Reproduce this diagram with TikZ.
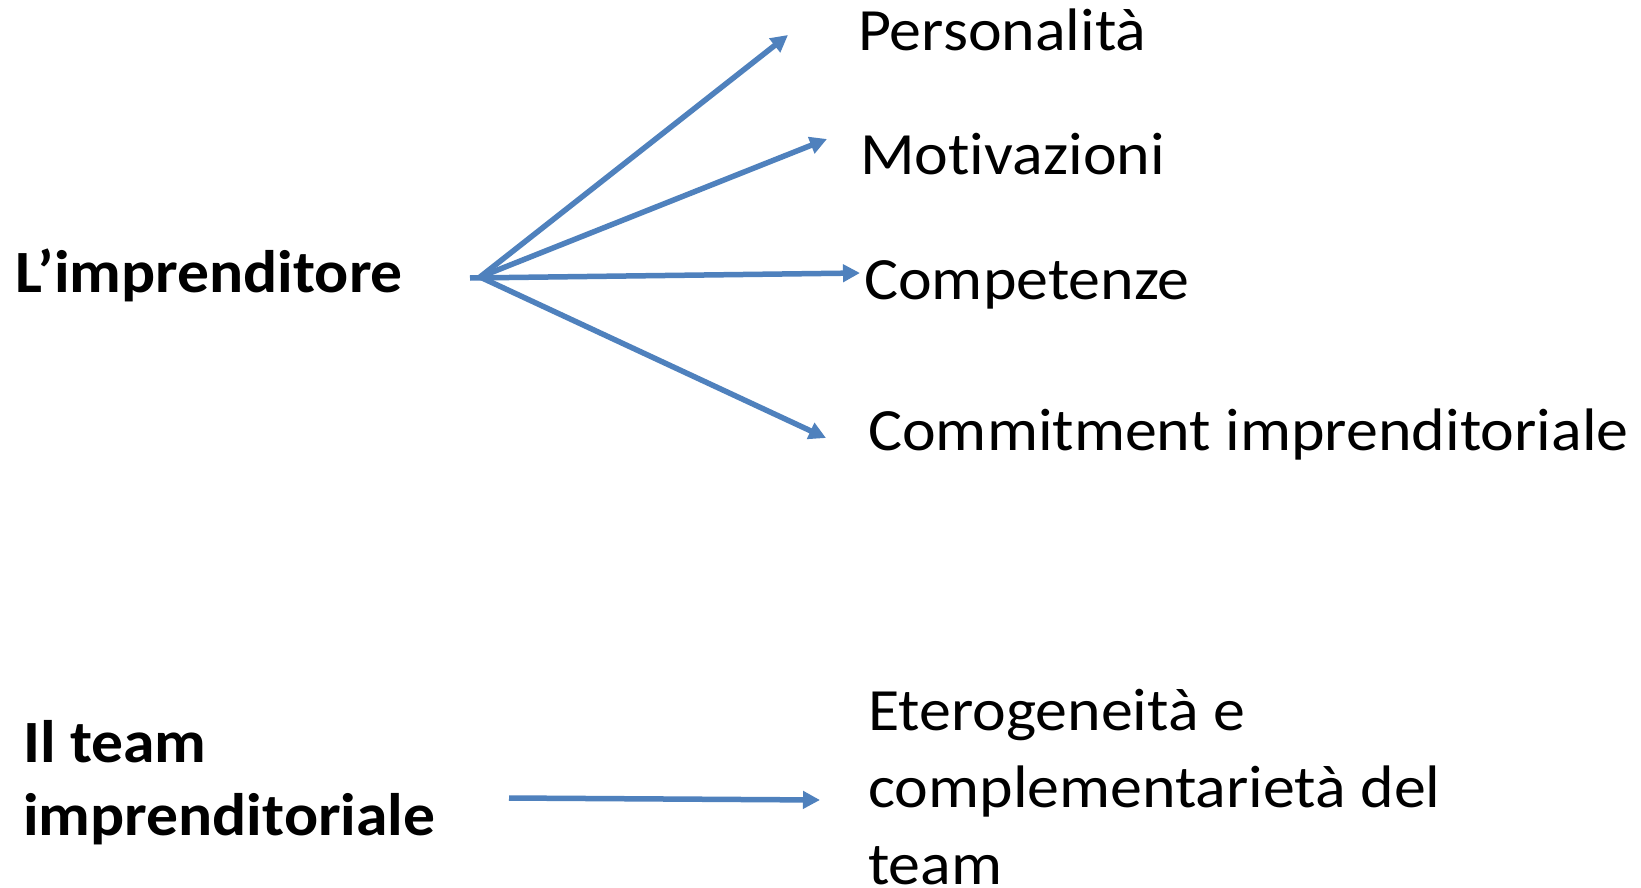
\documentclass[tikz,border=0pt]{standalone}
\usepackage{fontspec}
\setmainfont{Carlito}[Ligatures=NoCommon]
\usetikzlibrary{arrows.meta}
\definecolor{arrowblue}{HTML}{4F81BD}
\tikzset{
  conn/.style={draw=arrowblue, line width=5.5pt, -{Triangle[length=17pt,width=17pt]}},
  lbl/.style={anchor=base west, inner sep=0pt, xscale=1.065, transform shape, font=\fontsize{60}{77}\selectfont, align=left},
  head/.style={anchor=base west, inner sep=0pt, xscale=1.06, transform shape, font=\fontsize{60}{73}\selectfont\bfseries, align=left}
}
\begin{document}
\begin{tikzpicture}[x=1pt,y=-1pt]
\useasboundingbox[fill=white] (0,0) rectangle (1641,888);
\node[head] (imp) at (15,292) {L’imprenditore};
\node[head] (team) at (23,835) {Il team\\imprenditoriale};
\node[lbl] (pers) at (858,51) {Personalità};
\node[lbl] (moti) at (860,175) {Motivazioni};
\node[lbl] (comp) at (864,299) {Competenze};
\node[lbl] (commit) at (868,450) {Commitment imprenditoriale};
\node[lbl] (eter) at (868,884) {Eterogeneità e\\complementarietà del\\team};
\coordinate (hub) at (480,277);
\coordinate (hubl) at (470,278);
\coordinate (t1) at (788,35);
\coordinate (t2) at (827,139);
\coordinate (t3) at (860,273);
\coordinate (t4) at (826,438);
\coordinate (s5) at (509,798);
\coordinate (t5) at (820,800);
\draw[conn] (hub) -- (t1);
\draw[conn] (hub) -- (t2);
\draw[conn] (hubl) -- (t3);
\draw[conn] (hub) -- (t4);
\draw[conn] (s5) -- (t5);
\end{tikzpicture}
\end{document}
